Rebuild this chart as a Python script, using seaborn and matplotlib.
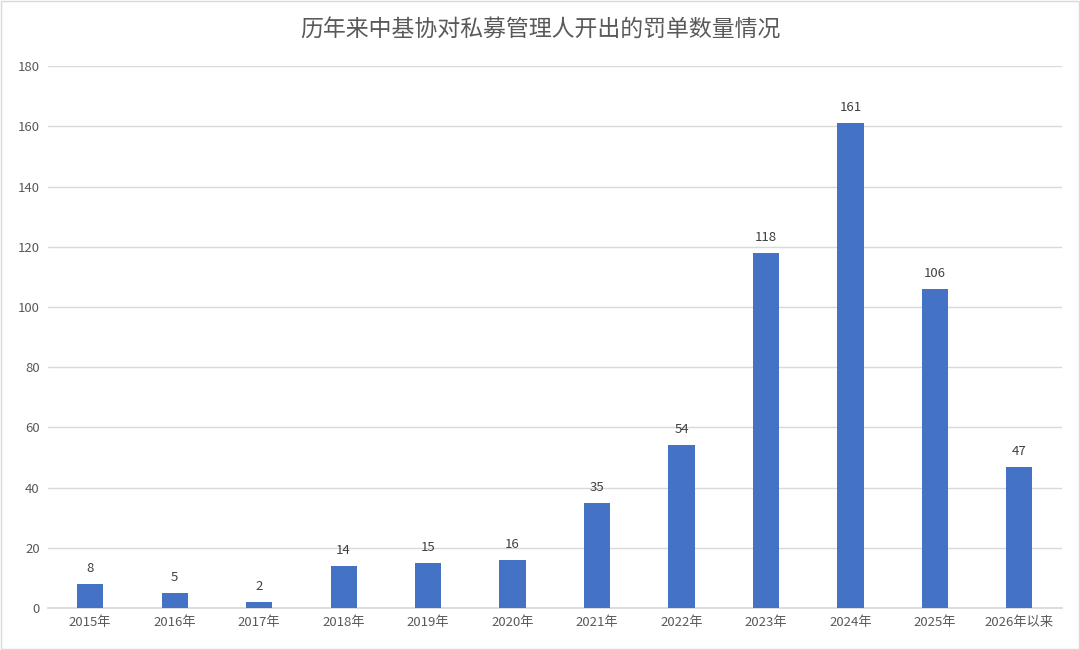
import matplotlib
matplotlib.use("Agg")
import matplotlib.pyplot as plt
import seaborn as sns
import pandas as pd

# data
years = ["2015年", "2016年", "2017年", "2018年", "2019年", "2020年",
         "2021年", "2022年", "2023年", "2024年", "2025年", "2026年以来"]
counts = [8, 5, 2, 14, 15, 16, 35, 54, 118, 161, 106, 47]
title = "历年来中基协对私募管理人开出的罚单数量情况"

df = pd.DataFrame({"year": years, "count": counts})

sns.set_theme(style="white")
plt.rcParams["font.family"] = ["Noto Sans CJK SC", "DejaVu Sans"]

fig = plt.figure(figsize=(10.8, 6.5), dpi=100)
ax = fig.add_axes([0.0444, 0.0646, 0.9386, 0.8334])

sns.barplot(data=df, x="year", y="count", color="#4472C4", width=0.31,
            saturation=1, linewidth=0, ax=ax, zorder=3)

for i, v in enumerate(counts):
    ax.text(i, v + 3, str(v), ha="center", va="bottom", fontsize=9.5, color="#404040")

ax.set_ylim(0, 180)
ax.set_yticks(range(0, 181, 20))
ax.set_xlim(-0.5, len(years) - 0.5)
ax.grid(axis="y", color="#D9D9D9", linewidth=1, zorder=0)
for s in ["top", "right", "left"]:
    ax.spines[s].set_visible(False)
ax.spines["bottom"].set_color("#D9D9D9")
ax.tick_params(axis="both", length=0, labelsize=9.5, labelcolor="#595959", pad=6)
ax.set_xlabel("")
ax.set_ylabel("")

fig.text(0.5, 0.953, title, ha="center", va="center", fontsize=16.5, color="#595959")

# light frame around the figure
fig.patches.append(plt.Rectangle((0.001, 0.001), 0.998, 0.998, transform=fig.transFigure,
                                 fill=False, edgecolor="#D9D9D9", linewidth=1))

fig.savefig("out.png", dpi=100)
